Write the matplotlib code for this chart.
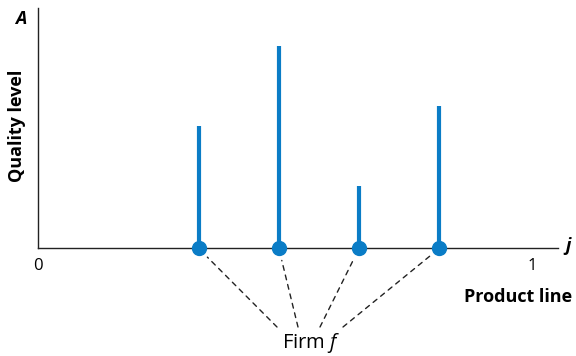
import matplotlib
matplotlib.use("Agg")
import matplotlib.pyplot as plt

# product positions on the line and their quality levels
positions = [0.325, 0.4875, 0.65, 0.8125]
quality = [0.508, 0.842, 0.258, 0.592]
tick_pos = [0, 1]
tick_labels = ["0", "1"]

blue = "#0a7cc6"
plt.rcParams["font.family"] = ["Open Sans", "DejaVu Sans"]
plt.rcParams["mathtext.fontset"] = "custom"
plt.rcParams["mathtext.it"] = "Open Sans:italic"
plt.rcParams["mathtext.rm"] = "Open Sans"

W, H = 576, 356
fig = plt.figure(figsize=(W / 100, H / 100), dpi=100)
ax = fig.add_axes([38 / W, (H - 248.3) / H, 520 / W, 240 / H])

ax.vlines(positions, 0, quality, color=blue, linewidth=3.0, zorder=3)
ax.plot(positions, [0] * len(positions), "o", color=blue, markersize=10,
        clip_on=False, zorder=4)

ax.set_xlim(0, 520 / 494)
ax.set_ylim(0, 1)
for s in ["top", "right"]:
    ax.spines[s].set_visible(False)
for s in ["left", "bottom"]:
    ax.spines[s].set_linewidth(1.0)
    ax.spines[s].set_color("#222222")
ax.set_yticks([])
ax.set_xticks(tick_pos)
ax.set_xticklabels(tick_labels, fontsize=12)
ax.tick_params(axis="x", length=0, pad=7)

# axis labels
fig.text(17 / W, 1 - 126 / H, "Quality level", rotation=90, fontsize=13,
         fontweight="bold", ha="center", va="center")
fig.text(21 / W, 1 - 19 / H, "A", fontsize=13, fontweight="bold",
         style="italic", ha="center", va="center")
fig.text(568 / W, 1 - 246 / H, "j", fontsize=13, fontweight="bold",
         style="italic", ha="center", va="center")
fig.text(518 / W, 1 - 297 / H, "Product line", fontsize=13,
         fontweight="bold", ha="center", va="center")
fig.text(311 / W, 1 - 343 / H, r"Firm $f$", fontsize=14.5,
         ha="center", va="center")

# dashed leaders from each product to the firm label
ends = [277, 298, 320, 343]
for x, ex in zip(positions, ends):
    ax.annotate("", xy=(x, 0), xycoords="data",
                xytext=(ex, H - 327), textcoords="figure pixels",
                arrowprops=dict(arrowstyle="-", linestyle=(0, (3.5, 3.5)),
                                color="#222222", lw=1.0,
                                shrinkA=0, shrinkB=9))

fig.savefig("out.png", dpi=100)
